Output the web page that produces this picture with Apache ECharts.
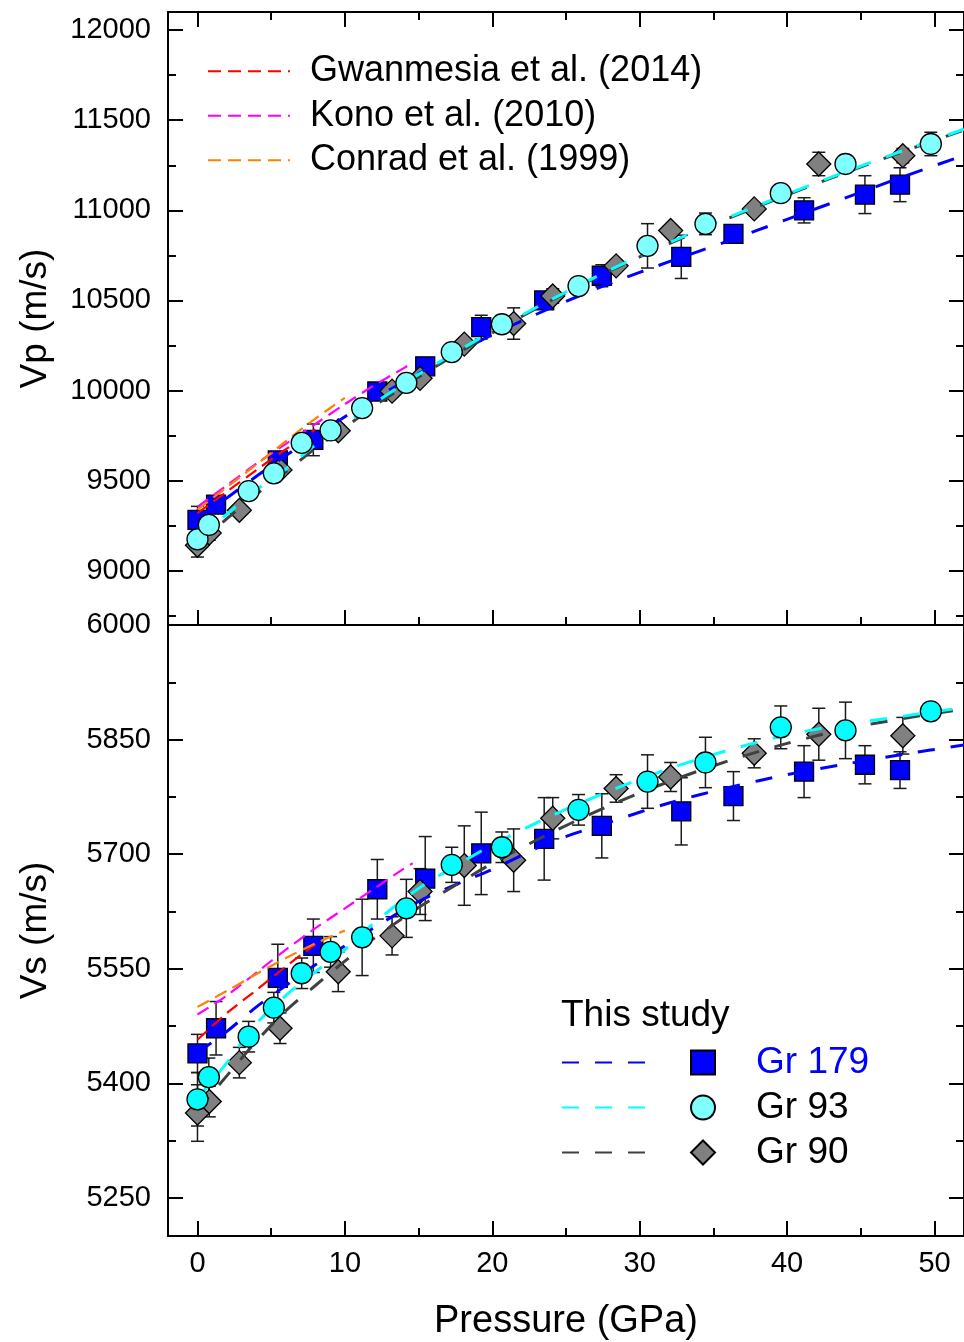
<!DOCTYPE html>
<html><head><meta charset="utf-8">
<script src="https://cdn.jsdelivr.net/npm/echarts@6/dist/echarts.min.js"></script>
<style>html,body{margin:0;padding:0;background:#fff}#c{width:964px;height:1342px}</style>
</head><body><div id="c"></div>
<script>
// ---- tick values ----
const pTicks = [0, 10, 20, 30, 40, 50];
const pMinor = [5, 15, 25, 35, 45];
const vpTicks = [9000, 9500, 10000, 10500, 11000, 11500, 12000];
const vpMinor = [8750, 9250, 9750, 10250, 10750, 11250, 11750];
const vsTicks = [5250, 5400, 5550, 5700, 5850, 6000];
const vsMinor = [5325, 5475, 5625, 5775, 5925];

// ---- This study: Gr 179 ----
const gr179P = [0, 1.26, 5.45, 7.86, 12.2, 15.45, 19.25, 23.52, 27.43, 32.82, 36.36, 41.15, 45.28, 47.66];
const gr179Vp = [9283, 9368, 9613, 9727, 9995, 10135, 10352, 10500, 10637, 10742, 10869, 11000, 11087, 11142];
const gr179VpErr = [75, 40, 40, 88, 30, 35, 66, 40, 61, 120, 40, 70, 105, 94];
const gr179Vs = [5439, 5472, 5538, 5580, 5654, 5668, 5701, 5720, 5737, 5756, 5776, 5808, 5817, 5810];
const gr179VsErr = [25, 35, 44, 35, 39, 55, 54, 54, 42, 44, 32, 34, 25, 24];

// ---- Gr 93 ----
const gr93P = [0, 0.77, 3.47, 5.18, 7.07, 9.03, 11.17, 14.17, 17.25, 20.65, 25.85, 30.53, 34.46, 39.57, 43.96, 49.75];
const gr93Vp = [9175, 9255, 9443, 9541, 9710, 9779, 9903, 10043, 10214, 10368, 10580, 10803, 10925, 11095, 11257, 11368];
const gr93VpErr = [40, 40, 30, 30, 30, 30, 30, 30, 30, 40, 30, 123, 60, 30, 30, 65];
const gr93Vs = [5379, 5408, 5461, 5499, 5544, 5572, 5591, 5629, 5686, 5709, 5758, 5795, 5820, 5866, 5862, 5887];
const gr93VsErr = [35, 25, 20, 20, 20, 20, 50, 38, 23, 20, 20, 35, 33, 28, 37, 10];

// ---- Gr 90 ----
const gr90P = [0, 0.8, 2.84, 5.6, 9.55, 13.2, 15.1, 18.1, 21.45, 24.1, 28.4, 32.1, 37.77, 42.15, 47.85];
const gr90Vp = [9142, 9210, 9336, 9560, 9777, 9997, 10068, 10258, 10372, 10525, 10692, 10888, 11008, 11257, 11303];
const gr90VpErr = [65, 40, 30, 30, 30, 30, 30, 30, 87, 40, 30, 30, 30, 65, 40];
const gr90Vs = [5361, 5376, 5427, 5472, 5546, 5593, 5651, 5685, 5692, 5747, 5786, 5801, 5832, 5857, 5855];
const gr90VsErr = [37, 20, 20, 20, 26, 25, 30, 52, 41, 27, 18, 19, 19, 34, 24];

// ---- fitted curves (this study) ----
const fitP = [0, 2, 4, 6, 8, 10, 12, 15, 18, 20, 24, 28, 32, 36, 40, 44, 48, 52];
const gr179VpFit = [9290, 9405, 9525, 9640, 9750, 9855, 9955, 10095, 10225, 10310, 10460, 10595, 10715, 10830, 10950, 11070, 11190, 11305];
const gr93VpFit = [9180, 9315, 9450, 9565, 9700, 9810, 9930, 10090, 10235, 10330, 10505, 10670, 10820, 10960, 11090, 11215, 11335, 11450];
const gr90VpFit = [9150, 9290, 9425, 9550, 9680, 9795, 9915, 10075, 10225, 10320, 10500, 10665, 10815, 10955, 11085, 11210, 11330, 11445];
const gr179VsFit = [5440, 5468, 5500, 5528, 5555, 5580, 5604, 5638, 5664, 5680, 5716, 5742, 5767, 5787, 5804, 5818, 5831, 5843];
const gr93VsFit = [5380, 5427, 5478, 5515, 5546, 5575, 5610, 5655, 5690, 5712, 5750, 5783, 5812, 5836, 5856, 5870, 5881, 5892];
const gr90VsFit = [5365, 5410, 5455, 5495, 5528, 5560, 5590, 5630, 5665, 5688, 5728, 5764, 5795, 5822, 5845, 5864, 5878, 5890];

// ---- literature curves ----
const gwanP = [0, 2, 4, 6, 8];
const gwanVp = [9320, 9440, 9560, 9675, 9785];
const gwanVs = [5457, 5492, 5522, 5553, 5582];
const konoP = [0, 2, 4, 6, 8, 10, 12, 14, 14.6];
const konoVp = [9355, 9475, 9595, 9705, 9815, 9925, 10030, 10125, 10155];
const konoVs = [5490, 5515, 5545, 5575, 5603, 5629, 5655, 5681, 5688];
const conradP = [0, 2, 4, 6, 8, 10];
const conradVp = [9340, 9465, 9590, 9720, 9845, 9960];
const conradVs = [5500, 5521, 5543, 5564, 5583, 5600];

const FONT = 'Liberation Sans, Arial, sans-serif';
const zip = (a, b) => a.map((v, i) => [v, b[i]]);
const plain = v => String(v);

function errBars(P, V, E, xi, yi) {
  return {
    type: 'custom', xAxisIndex: xi, yAxisIndex: yi, z: 2, silent: true,
    data: P.map((p, i) => [p, V[i], E[i]]),
    encode: { x: 0, y: 1 },
    renderItem: (params, api) => {
      const x = api.value(0), y = api.value(1), e = api.value(2);
      const a = api.coord([x, y + e]), b = api.coord([x, y - e]);
      const w = 6.5;
      const st = { stroke: '#1a1a1a', lineWidth: 1.5 };
      return { type: 'group', children: [
        { type: 'line', shape: { x1: a[0], y1: a[1], x2: b[0], y2: b[1] }, style: st },
        { type: 'line', shape: { x1: a[0] - w, y1: a[1], x2: a[0] + w, y2: a[1] }, style: st },
        { type: 'line', shape: { x1: b[0] - w, y1: b[1], x2: b[0] + w, y2: b[1] }, style: st }
      ]};
    }
  };
}
function fitLine(name, P, V, color, xi, yi) {
  return { type: 'line', name, xAxisIndex: xi, yAxisIndex: yi, z: 5, data: zip(P, V),
    symbol: 'none', smooth: 0.3, silent: true,
    lineStyle: { color, width: 3, type: [17, 16] }, itemStyle: { color } };
}
function litLine(name, P, V, color, xi, yi) {
  return { type: 'line', name, xAxisIndex: xi, yAxisIndex: yi, z: 5, data: zip(P, V),
    symbol: 'none', smooth: 0.3, silent: true,
    lineStyle: { color, width: 2.2, type: [13, 7] }, itemStyle: { color } };
}
function pts(name, P, V, symbol, size, color, z, xi, yi) {
  return { type: 'scatter', name, xAxisIndex: xi, yAxisIndex: yi, z, data: zip(P, V),
    symbol, symbolSize: size,
    itemStyle: { color, borderColor: '#000', borderWidth: 1.3, opacity: 1 } };
}

const axLine = { show: true, onZero: false, lineStyle: { color: '#000', width: 2 } };
function xAx(grid, pos, vals, len, opts) {
  return Object.assign({
    type: 'value', gridIndex: grid, position: pos, min: -2, max: 52,
    axisLine: axLine, splitLine: { show: false },
    axisTick: { show: true, inside: true, length: len, customValues: vals, lineStyle: { color: '#000', width: 2 } },
    axisLabel: { show: false }
  }, opts || {});
}
function yAx(grid, pos, min, max, vals, len, opts) {
  return Object.assign({
    type: 'value', gridIndex: grid, position: pos, min, max,
    axisLine: axLine, splitLine: { show: false },
    axisTick: { show: true, inside: true, length: len, customValues: vals, lineStyle: { color: '#000', width: 2 } },
    axisLabel: { show: false }
  }, opts || {});
}
const noLine = { axisLine: { show: false, onZero: false } };

const xAxis = [
  xAx(0, 'bottom', pTicks, 15),            // 0
  xAx(0, 'bottom', pMinor, 8, noLine),     // 1
  xAx(0, 'top', pTicks, 15),               // 2
  xAx(0, 'top', pMinor, 8, noLine),        // 3
  xAx(1, 'bottom', pTicks, 15, {           // 4
    name: 'Pressure (GPa)', nameLocation: 'middle', nameGap: 67,
    nameTextStyle: { fontSize: 38, color: '#000', fontFamily: FONT },
    axisLabel: { show: true, customValues: pTicks, fontSize: 29, color: '#000', margin: 13, fontFamily: FONT, formatter: plain }
  }),
  xAx(1, 'bottom', pMinor, 8, noLine),     // 5
  xAx(1, 'top', [], 0, { axisTick: { show: false } }) // 6
];
const yAxis = [
  yAx(0, 'left', 8700, 12100, vpTicks, 15, {   // 0
    name: 'Vp (m/s)', nameLocation: 'middle', nameGap: 114,
    nameTextStyle: { fontSize: 37, color: '#000', fontFamily: FONT },
    axisLabel: { show: true, customValues: vpTicks, fontSize: 29, color: '#000', margin: 17, fontFamily: FONT, formatter: plain }
  }),
  yAx(0, 'left', 8700, 12100, vpMinor, 8, noLine),   // 1
  yAx(0, 'right', 8700, 12100, vpTicks, 15),         // 2
  yAx(0, 'right', 8700, 12100, vpMinor, 8, noLine),  // 3
  yAx(1, 'left', 5200, 6000, vsTicks, 15, {          // 4
    name: 'Vs (m/s)', nameLocation: 'middle', nameGap: 114,
    nameTextStyle: { fontSize: 37, color: '#000', fontFamily: FONT },
    axisLabel: { show: true, customValues: vsTicks, fontSize: 29, color: '#000', margin: 17, fontFamily: FONT, formatter: plain }
  }),
  yAx(1, 'left', 5200, 6000, vsMinor, 8, noLine),    // 5
  yAx(1, 'right', 5200, 6000, vsTicks, 15),          // 6
  yAx(1, 'right', 5200, 6000, vsMinor, 8, noLine)    // 7
];

const series = [
  // top panel (Vp)
  errBars(gr179P, gr179Vp, gr179VpErr, 0, 0),
  errBars(gr93P, gr93Vp, gr93VpErr, 0, 0),
  errBars(gr90P, gr90Vp, gr90VpErr, 0, 0),
  pts('Gr 179', gr179P, gr179Vp, 'rect', 19, '#0000FF', 3, 0, 0),
  pts('Gr 90', gr90P, gr90Vp, 'diamond', 24, '#808080', 4, 0, 0),
  pts('Gr 93', gr93P, gr93Vp, 'circle', 21, '#80FFFF', 6, 0, 0),
  litLine('Gwanmesia et al. (2014)', gwanP, gwanVp, '#FF0000', 0, 0),
  litLine('Kono et al. (2010)', konoP, konoVp, '#FF00FF', 0, 0),
  litLine('Conrad et al. (1999)', conradP, conradVp, '#FF8000', 0, 0),
  fitLine('Gr 179 fit', fitP, gr179VpFit, '#0000FF', 0, 0),
  fitLine('Gr 90 fit', fitP, gr90VpFit, '#404040', 0, 0),
  fitLine('Gr 93 fit', fitP, gr93VpFit, '#00FFFF', 0, 0),
  // bottom panel (Vs)
  errBars(gr179P, gr179Vs, gr179VsErr, 4, 4),
  errBars(gr93P, gr93Vs, gr93VsErr, 4, 4),
  errBars(gr90P, gr90Vs, gr90VsErr, 4, 4),
  pts('Gr 179', gr179P, gr179Vs, 'rect', 19, '#0000FF', 3, 4, 4),
  pts('Gr 90', gr90P, gr90Vs, 'diamond', 24, '#808080', 4, 4, 4),
  pts('Gr 93', gr93P, gr93Vs, 'circle', 21, '#00FFFF', 6, 4, 4),
  litLine('Gwanmesia et al. (2014)', gwanP, gwanVs, '#FF0000', 4, 4),
  litLine('Kono et al. (2010)', konoP, konoVs, '#FF00FF', 4, 4),
  litLine('Conrad et al. (1999)', conradP, conradVs, '#FF8000', 4, 4),
  fitLine('Gr 179 fit', fitP, gr179VsFit, '#0000FF', 4, 4),
  fitLine('Gr 90 fit', fitP, gr90VsFit, '#404040', 4, 4),
  fitLine('Gr 93 fit', fitP, gr93VsFit, '#00FFFF', 4, 4)
];

const hideSym = { color: 'rgba(0,0,0,0)', borderColor: 'rgba(0,0,0,0)', borderWidth: 0 };
const option = {
  animation: false,
  backgroundColor: '#fff',
  textStyle: { fontFamily: FONT },
  title: { text: 'This study', left: 561, top: 996, padding: 0,
    textStyle: { fontSize: 37, fontWeight: 'normal', color: '#000', lineHeight: 40, fontFamily: FONT } },
  grid: [
    { left: 168, top: 12, width: 797, height: 613 },
    { left: 168, top: 625, width: 797, height: 612 }
  ],
  legend: [
    { data: ['Gwanmesia et al. (2014)', 'Kono et al. (2010)', 'Conrad et al. (1999)'],
      orient: 'vertical', left: 207, top: 49, padding: 0, itemGap: 0, selectedMode: false,
      itemWidth: 82, itemHeight: 10, itemStyle: hideSym,
      textStyle: { fontSize: 36, lineHeight: 44.5, color: '#000', padding: [0, 0, 0, 15], fontFamily: FONT } },
    { data: ['Gr 179 fit', 'Gr 93 fit', 'Gr 90 fit'],
      orient: 'vertical', left: 561, top: 1040, padding: 0, itemGap: 0, selectedMode: false,
      itemWidth: 90, itemHeight: 10, formatter: () => ' ', itemStyle: hideSym,
      textStyle: { fontSize: 36, lineHeight: 45, color: '#000', fontFamily: FONT } },
    { data: [{ name: 'Gr 179', textStyle: { color: '#0000FF' } }, 'Gr 93', 'Gr 90'],
      orient: 'vertical', left: 690, top: 1040, padding: 0, itemGap: 0, selectedMode: false,
      itemWidth: 24, itemHeight: 24,
      textStyle: { fontSize: 37, lineHeight: 45, color: '#000', padding: [0, 0, 0, 36], fontFamily: FONT } }
  ],
  xAxis, yAxis, series
};
const chart = echarts.init(document.getElementById('c'), null, { renderer: 'canvas' });
chart.setOption(option);
</script>
</body></html>
